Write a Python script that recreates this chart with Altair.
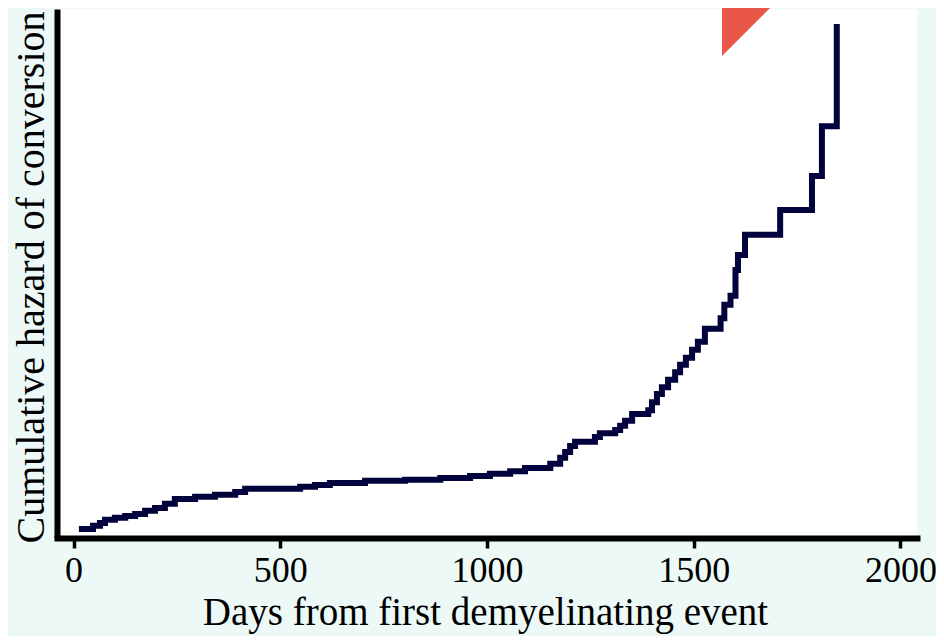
import altair as alt
import pandas as pd

# Step points of the cumulative hazard curve
days = [13, 47, 64, 76, 100, 125, 149, 173, 197, 221, 245, 294, 342, 391, 415,
        548, 584, 620, 705, 802, 887, 959, 1007, 1056, 1092, 1153, 1177, 1189,
        1201, 1213, 1261, 1273, 1310, 1322, 1334, 1351, 1390, 1399, 1411, 1423,
        1438, 1455, 1467, 1481, 1496, 1510, 1527, 1565, 1574, 1589, 1601, 1607,
        1624, 1709, 1786, 1810, 1846]
hazard = [0.028, 0.034, 0.039, 0.045, 0.049, 0.052, 0.056, 0.062, 0.067, 0.075,
          0.084, 0.088, 0.092, 0.097, 0.103, 0.107, 0.110, 0.114, 0.118, 0.120,
          0.123, 0.127, 0.131, 0.136, 0.142, 0.150, 0.161, 0.172, 0.183, 0.191,
          0.200, 0.207, 0.213, 0.221, 0.230, 0.243, 0.250, 0.265, 0.280, 0.293,
          0.307, 0.321, 0.335, 0.348, 0.363, 0.378, 0.402, 0.422, 0.447, 0.464,
          0.512, 0.540, 0.578, 0.624, 0.688, 0.781, 0.972]
x_ticks = [0, 500, 1000, 1500, 2000]
x_title = "Days from first demyelinating event"
y_title = "Cumulative hazard of conversion"

df = pd.DataFrame({"day": days, "hazard": hazard})

FONT = "Liberation Serif"
W, H = 860, 529

line = alt.Chart(df).mark_line(
    interpolate="step-after", strokeWidth=6, color="#02023c",
    strokeJoin="miter", strokeCap="butt"
).encode(
    x=alt.X("day:Q",
            scale=alt.Scale(domain=[-40, 2040], nice=False, zero=False),
            axis=alt.Axis(values=x_ticks, format="d", title=x_title,
                          grid=False, domainWidth=6, domainColor="black",
                          domainCap="square",
                          tickSize=10, tickWidth=3.5, tickColor="black",
                          labelFont=FONT, labelFontSize=36, labelColor="black",
                          labelBaseline="alphabetic", labelPadding=33,
                          labelFlush=False, labelOverlap=False,
                          titleFont=FONT, titleFontSize=39, titleFontWeight="normal",
                          titleColor="black", titleX=428, titleY=86,
                          titleAlign="center", titleBaseline="alphabetic")),
    y=alt.Y("hazard:Q",
            scale=alt.Scale(domain=[0.011, 1.0], nice=False, zero=False),
            axis=alt.Axis(title=y_title, labels=False, ticks=False, grid=False,
                          domainWidth=6, domainColor="black",
                          titleFont=FONT, titleFontSize=40, titleFontWeight="normal",
                          titleColor="black", titleAngle=-90, titleX=-14, titleY=268,
                          titleAlign="center", titleBaseline="alphabetic")),
)

# decorative red banner corner at the top of the slide
banner = alt.Chart(pd.DataFrame({"d": [0]})).mark_point(
    shape="M-1,-1 L1,-1 L-1,1 Z", size=3136, filled=True, opacity=1,
    color="#e85747", strokeWidth=0, clip=False
).encode(x=alt.value(693), y=alt.value(19))

chart = alt.layer(line, banner).properties(
    width=W, height=H,
    autosize=alt.AutoSizeParams(type="none"),
    padding={"left": 49, "top": 1, "right": 19, "bottom": 98},
    background="#ecf9f6",
).configure_view(fill="white", strokeWidth=0)

chart.save("out.html", embed_options={"renderer": "svg", "actions": False})
